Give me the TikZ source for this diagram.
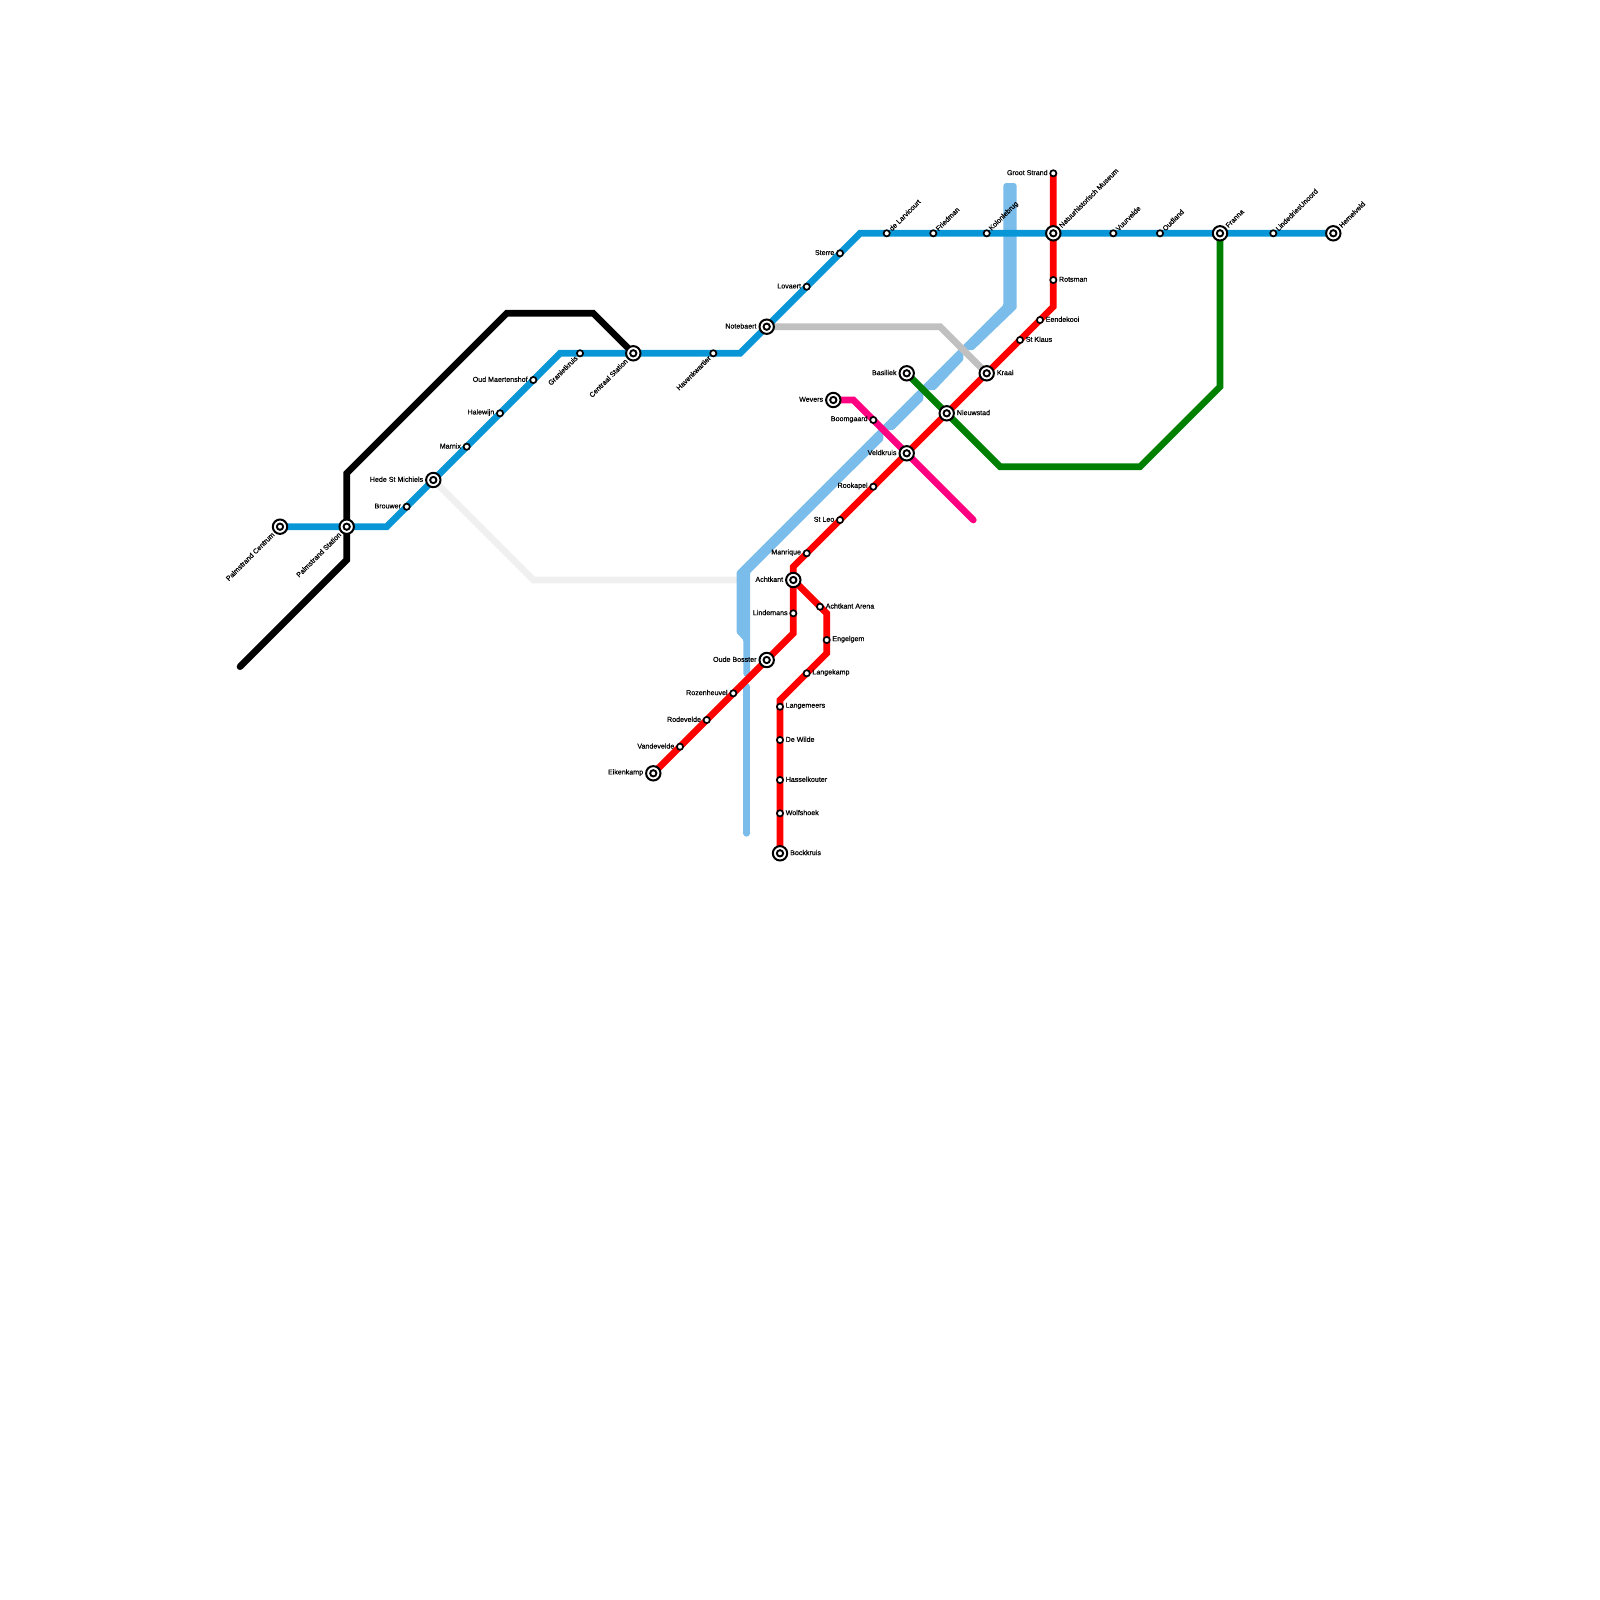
\documentclass[tikz,border=0pt]{standalone}
\usepackage{fontspec}
\setmainfont[FakeBold=0.45]{Liberation Sans}
\usepackage{xcolor}
\definecolor{metroblue}{RGB}{8, 150, 215}
\definecolor{riverblue}{RGB}{123, 189, 234}
\definecolor{metrored}{RGB}{255, 0, 0}
\definecolor{metrogreen}{RGB}{0, 128, 0}
\definecolor{metropink}{RGB}{255, 0, 128}
\definecolor{metrogrey}{RGB}{192, 192, 192}
\definecolor{metropale}{RGB}{240, 240, 240}
\usetikzlibrary{arrows.meta, positioning, calc}
\pgfdeclarelayer{lines}
\pgfsetlayers{lines,main}
\tikzset{
    metroline/.style={line width=6.67pt, line cap=round},
    stop/.style={circle, draw=black, fill=white, line width=1.7pt, minimum size=6.2pt, inner sep=0pt},
    hub/.style={circle, draw=black, fill=white, line width=2pt, minimum size=14.4pt, inner sep=0pt},
    hubdot/.style={circle, draw=black, fill=white, line width=1.9pt, minimum size=6.3pt, inner sep=0pt},
    lbl/.style={font=\fontsize{7.1}{8}\selectfont, inner sep=0pt, text=black},
    stopE/.style={lbl, anchor=west, xshift=5.5pt, yshift=0.7pt},
    stopW/.style={lbl, anchor=east, xshift=-5.5pt, yshift=0.7pt},
    stopNE/.style={lbl, anchor=west, rotate=45, xshift=5pt},
    stopSW/.style={lbl, anchor=east, rotate=45, xshift=-5pt},
    hubE/.style={lbl, anchor=west, xshift=10pt, yshift=0.7pt},
    hubW/.style={lbl, anchor=east, xshift=-10pt, yshift=0.7pt},
    hubNE/.style={lbl, anchor=west, rotate=45, xshift=9.5pt},
    hubSW/.style={lbl, anchor=east, rotate=45, xshift=-9.5pt},
}
\begin{document}
\begin{tikzpicture}[x=1pt, y=-1pt]
    \useasboundingbox (0,0) rectangle (1600,1600);

    % interchange stations
    \foreach \id/\x/\y/\txt/\pos in {
        palmc/280/526.7/Palmstrand Centrum/hubSW,
        palms/346.7/526.7/Palmstrand Station/hubSW,
        hede/433.3/480/Hede St Michiels/hubW,
        centraal/633.3/353.3/Centraal Station/hubSW,
        notebaert/766.7/326.7/Notebaert/hubW,
        natuur/1053.3/233.3/Natuurhistorisch Museum/hubNE,
        franna/1220/233.3/Franna/hubNE,
        hemelveld/1333.3/233.3/Hemelveld/hubNE,
        basiliek/906.7/373.3/Basiliek/hubW,
        wevers/833.3/400/Wevers/hubW,
        kraai/986.7/373.3/Kraai/hubE,
        nieuwstad/946.7/413.3/Nieuwstad/hubE,
        veldkruis/906.7/453.3/Veldkruis/hubW,
        achtkant/793.3/580/Achtkant/hubW,
        bosster/766.7/660/Oude Bosster/hubW,
        eikenkamp/653.3/773.3/Eikenkamp/hubW,
        bockkruis/780/853.3/Bockkruis/hubE%
    } {
        \node[hub] (\id) at (\x,\y) {};
        \node[hubdot] (\id-dot) at (\x,\y) {};
        \node[\pos] (\id-txt) at (\x,\y) {\txt};
    }

    % ordinary stations
    \foreach \id/\x/\y/\txt/\pos in {
        brouwer/406.7/506.7/Brouwer/stopW,
        marnix/466.7/446.7/Marnix/stopW,
        halewijn/500/413.3/Halewijn/stopW,
        maertens/533.3/380/Oud Maertenshof/stopW,
        graniet/580/353.3/Granietkruis/stopSW,
        haven/713.3/353.3/Havenkwartier/stopSW,
        lovaert/806.7/286.7/Lovaert/stopW,
        sterre/840/253.3/Sterre/stopW,
        larvicourt/886.7/233.3/de Larvicourt/stopNE,
        friedman/933.3/233.3/Friedman/stopNE,
        kolonie/986.7/233.3/Kolonlebrug/stopNE,
        vuurvelde/1113.3/233.3/Vuurvelde/stopNE,
        oudland/1160/233.3/Oudland/stopNE,
        linde/1273.3/233.3/LindedriesUnoord/stopNE,
        groot/1053.3/173.3/Groot Strand/stopW,
        rotsman/1053.3/280/Rotsman/stopE,
        eendekooi/1040/320/Eendekooi/stopE,
        klaus/1020/340/St Klaus/stopE,
        boomgaard/873.3/420/Boomgaard/stopW,
        rookapel/873.3/486.7/Rookapel/stopW,
        leo/840/520/St Leo/stopW,
        manrique/806.7/553.3/Manrique/stopW,
        lindemans/793.3/613.3/Lindemans/stopW,
        arena/820/606.7/Achtkant Arena/stopE,
        engelgem/826.7/640/Engelgem/stopE,
        langekamp/806.7/673.3/Langekamp/stopE,
        rozen/733.3/693.3/Rozenheuvel/stopW,
        rode/706.7/720/Rodevelde/stopW,
        vande/680/746.7/Vandevelde/stopW,
        meers/780/706.7/Langemeers/stopE,
        wilde/780/740/De Wilde/stopE,
        hassel/780/780/Hasselkouter/stopE,
        wolf/780/813.3/Wolfshoek/stopE%
    } {
        \node[stop] (\id) at (\x,\y) {};
        \node[\pos] (\id-txt) at (\x,\y) {\txt};
    }

    % free ends of the lines
    \coordinate (blackstart) at (240,666.7);
    \coordinate (pinkend) at (973.3,520);
    \coordinate (palestart) at (740,580);
    \coordinate (riverlow) at (746.7,833.3);
    \coordinate (riverhigh) at (746.7,686.6);

    \begin{pgfonlayer}{lines}
        \draw[metroline, metropale] (hede.center) -- (533.3,580) -- (palestart);

        % river
        \fill[riverblue]
            (1010,183) [rounded corners=3pt] -- (1016.7,183) [rounded corners=1pt] -- (1016.7,308.3) -- (973.3,350) -- (963.3,350)
            -- (963.3,360) -- (935,390) -- (923.3,390) -- (923.3,400) -- (893.3,430)
            -- (883.3,430) -- (883.3,440) -- (750,573) -- (750,674) [rounded corners=3pt] -- (750,676.5) -- (743.3,676.5) [rounded corners=1pt]
            -- (743.3,640) -- (736.7,633) -- (736.7,571.7) -- (1003.3,305) [rounded corners=3pt] -- (1003.3,183) -- cycle;
        \draw[metroline, riverblue] (riverhigh) -- (riverlow);

        \draw[metroline, metrogrey] (notebaert.center) -- (940,326.7) -- (kraai.center);
        \draw[metroline, black] (blackstart) -- (346.7,560) -- (346.7,473.3) -- (506.7,313.3) -- (593.3,313.3) -- (centraal.center);
        \draw[metroline, metroblue] (palmc.center) -- (386.7,526.7) -- (560,353.3) -- (740,353.3) -- (860,233.3) -- (hemelveld.center);
        \draw[metroline, metrored] (groot.center) -- (1053.3,306.7) -- (793.3,566.7) -- (793.3,633.3) -- (eikenkamp.center);
        \draw[metroline, metrored] (achtkant.center) -- (826.7,613.3) -- (826.7,653.3) -- (780,700) -- (bockkruis.center);
        \draw[metroline, metrogreen] (basiliek.center) -- (1000,466.7) -- (1140,466.7) -- (1220,386.7) -- (franna.center);
        \draw[metroline, metropink] (wevers.center) -- (853.3,400) -- (pinkend);
    \end{pgfonlayer}
\end{tikzpicture}
\end{document}
